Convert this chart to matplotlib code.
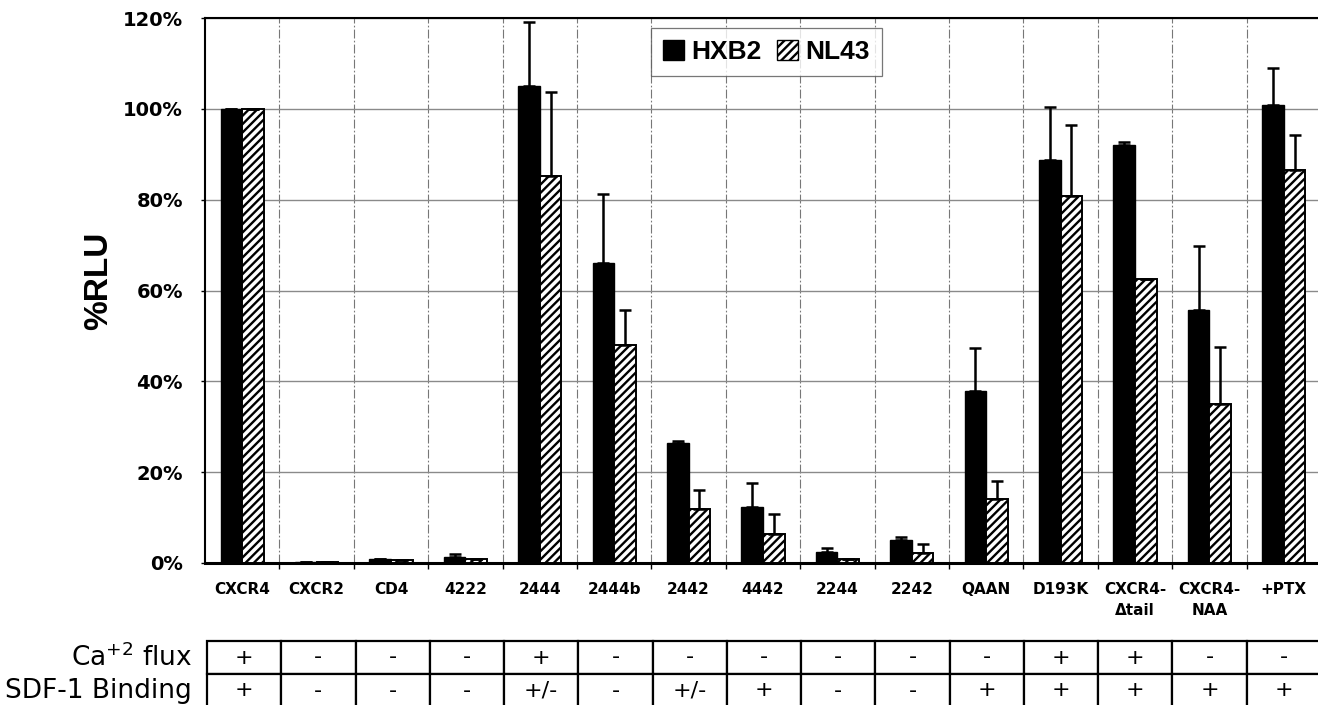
import matplotlib
matplotlib.use("Agg")
import matplotlib.pyplot as plt
import numpy as np
from matplotlib.patches import Patch

categories = ["CXCR4", "CXCR2", "CD4", "4222", "2444", "2444b", "2442", "4442",
              "2244", "2242", "QAAN", "D193K", "CXCR4-\n\u0394tail", "CXCR4-\nNAA", "+PTX"]
hxb2 = [100, 0.3, 0.8, 1.3, 105.1, 66.1, 26.5, 12.4, 2.4, 5.1, 37.9, 88.8, 92.1, 55.7, 100.8]
hxb2_err = [0, 0, 0, 0.6, 14.1, 15.2, 0.4, 5.3, 0.8, 0.7, 9.4, 11.5, 0.5, 14.1, 8.2]
nl43 = [100, 0.2, 0.6, 0.8, 85.3, 48.0, 11.8, 6.4, 0.8, 2.3, 14.2, 80.9, 62.6, 35.0, 86.6]
nl43_err = [0, 0, 0, 0, 18.3, 7.7, 4.3, 4.3, 0, 1.9, 3.9, 15.6, 0, 12.5, 7.6]
yticks = [0, 20, 40, 60, 80, 100, 120]
ca_flux = ["+", "-", "-", "-", "+", "-", "-", "-", "-", "-", "-", "+", "+", "-", "-"]
sdf_binding = ["+", "-", "-", "-", "+/-", "-", "+/-", "+", "-", "-", "+", "+", "+", "+", "+"]
row_labels = ["Ca$^{\\mathregular{+2}}$ flux", "SDF-1 Binding"]

plt.rcParams['hatch.linewidth'] = 1.7
plt.rcParams['hatch.color'] = 'black'

W, H = 1318, 705
fig = plt.figure(figsize=(W / 100, H / 100), dpi=100)
ax_left = 205 / W
ax_w = 1116 / W
ax = fig.add_axes([ax_left, (H - 563) / H, ax_w, (563 - 18) / H])

x = np.arange(len(categories))
bw = 0.29
ax.bar(x - bw / 2, hxb2, bw, color='black', edgecolor='black', linewidth=1, zorder=3)
ax.bar(x + bw / 2, nl43, bw, color='white', edgecolor='black', linewidth=1.4,
       hatch='////', zorder=3)
ax.errorbar(x - bw / 2, hxb2, yerr=[np.zeros(len(hxb2)), hxb2_err], fmt='none',
            ecolor='black', elinewidth=1.8, capsize=4, capthick=1.8, zorder=4)
ax.errorbar(x + bw / 2, nl43, yerr=[np.zeros(len(nl43)), nl43_err], fmt='none',
            ecolor='black', elinewidth=1.8, capsize=4, capthick=1.8, zorder=4)

ax.set_xlim(-0.5, len(categories) - 0.5)
ax.set_ylim(0, 120)
ax.set_yticks(yticks)
ax.set_yticklabels([f"{v}%" for v in yticks], fontsize=14, fontweight='bold',
                   family='DejaVu Sans')
ax.tick_params(axis='y', length=3, width=1, pad=13)
ax.set_xticks(x)
ax.set_xticklabels(categories, fontsize=11, fontweight='bold', family='DejaVu Sans')
for lab in ax.get_xticklabels():
    lab.set_linespacing(1.5)
ax.tick_params(axis='x', which='major', length=0, pad=14)
ax.set_xticks(np.arange(0.5, len(categories) - 0.5, 1), minor=True)
ax.tick_params(axis='x', which='minor', length=4, width=1, direction='out')

ax.grid(axis='y', which='major', color='#8a8a8a', linewidth=1.0, zorder=0)
ax.grid(axis='x', which='minor', color='#777777', linewidth=0.8,
        linestyle=(0, (8, 2, 1.5, 2)), zorder=0)
ax.set_axisbelow(True)

for s in ['left', 'top']:
    ax.spines[s].set_linewidth(1.5)
ax.spines['bottom'].set_linewidth(2.2)
ax.spines['right'].set_visible(False)

ax.set_ylabel("%RLU", fontsize=24, fontweight='bold', family='Liberation Sans')
ax.yaxis.set_label_coords(-0.081, 0.518)

handles = [Patch(facecolor='black', edgecolor='black', label='HXB2'),
           Patch(facecolor='white', edgecolor='black', hatch='////', label='NL43')]
leg = ax.legend(handles=handles, loc='upper left', bbox_to_anchor=((651 - 205) / 1116, (563 - 28) / 545),
                borderaxespad=0, ncol=2, frameon=True, fancybox=False,
                prop={'family': 'Liberation Sans', 'weight': 'bold', 'size': 19},
                handlelength=0.8, handleheight=0.8, handletextpad=0.27,
                columnspacing=0.6, borderpad=0.45)
leg.get_frame().set_edgecolor('#555555')
leg.get_frame().set_linewidth(0.9)
leg.set_zorder(5)

# table of properties
tab_ax = fig.add_axes([207 / W, (H - 707) / H, (1321 - 207) / W, 66 / H])
tab_ax.set_axis_off()
tbl = tab_ax.table(cellText=[ca_flux, sdf_binding], bbox=[0, 0, 1, 1], cellLoc='center')
tbl.auto_set_font_size(False)
tbl.set_fontsize(16)
for (r, c), cell in tbl.get_celld().items():
    cell.set_linewidth(1.6)
    cell.set_edgecolor('black')
    cell.get_text().set_family('DejaVu Sans')
for i, lab in enumerate(row_labels):
    tab_ax.text(-0.0135, 0.75 - 0.5 * i, lab, transform=tab_ax.transAxes,
                ha='right', va='center', fontsize=19, family='DejaVu Sans')

fig.savefig("out.png", dpi=100)
